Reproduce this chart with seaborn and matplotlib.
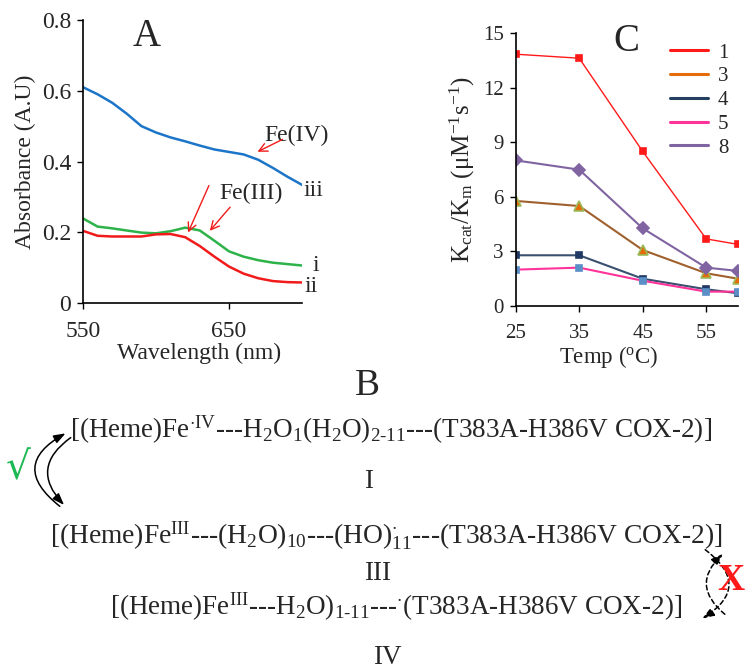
import matplotlib
matplotlib.use("Agg")

import matplotlib.pyplot as plt
import numpy as np
import pandas as pd
import seaborn as sns
from matplotlib.lines import Line2D
from matplotlib.patches import FancyArrowPatch

# ---- panel A: absorbance spectra ----
wavelength = [550, 560, 570, 580, 590, 600, 610, 620, 630, 640, 650, 660, 670, 680, 690, 700]
abs_i = [0.239, 0.216, 0.211, 0.205, 0.199, 0.197, 0.203, 0.213, 0.205, 0.176, 0.146, 0.131, 0.121, 0.114, 0.110, 0.106]
abs_ii = [0.204, 0.190, 0.188, 0.188, 0.188, 0.194, 0.195, 0.186, 0.161, 0.131, 0.103, 0.083, 0.070, 0.062, 0.059, 0.058]
abs_iii = [0.610, 0.590, 0.566, 0.535, 0.500, 0.482, 0.468, 0.457, 0.445, 0.434, 0.427, 0.420, 0.405, 0.382, 0.357, 0.334]

# ---- panel C: kcat/Km vs temperature ----
temps = [25, 35, 45, 55, 60]
kcat_1 = [13.85, 13.63, 8.50, 3.69, 3.39]
kcat_3 = [5.78, 5.50, 3.08, 1.80, 1.50]
kcat_4 = [2.79, 2.79, 1.50, 0.92, 0.70]
kcat_5 = [2.00, 2.11, 1.39, 0.79, 0.79]
kcat_8 = [8.01, 7.50, 4.27, 2.11, 1.93]
series_names = ["1", "3", "4", "5", "8"]

W, H = 745, 671


def fxy(px, py):
    """pixel position (from top-left) -> figure fraction"""
    return px / W, 1 - py / H


sns.set_theme(style="ticks")
plt.rcParams["font.family"] = ["Liberation Serif", "DejaVu Serif"]
plt.rcParams["mathtext.fontset"] = "custom"
plt.rcParams["mathtext.rm"] = "Liberation Serif"
plt.rcParams["mathtext.it"] = "Liberation Serif:italic"
plt.rcParams["mathtext.bf"] = "Liberation Serif:bold"

fig = plt.figure(figsize=(7.45, 6.71), dpi=100)
fig.patch.set_facecolor("white")

# ================= Panel A =================
axa = fig.add_axes([83 / W, 1 - 303 / H, 219 / W, 283 / H])
df_a = pd.DataFrame({
    "wavelength": wavelength * 3,
    "absorbance": abs_i + abs_ii + abs_iii,
    "sample": ["i"] * 16 + ["ii"] * 16 + ["iii"] * 16,
})
pal_a = {"i": "#2DB34A", "ii": "#F21B1B", "iii": "#1C75C8"}
sns.lineplot(data=df_a, x="wavelength", y="absorbance", hue="sample",
             palette=pal_a, lw=1.8, legend=False, ax=axa)
axa.set_xlim(550, 700)
axa.set_ylim(0, 0.8)
axa.set_xticks([550, 650])
axa.set_yticks([0, 0.2, 0.4, 0.6, 0.8])
axa.set_yticklabels(["0", "0.2", "0.4", "0.6", "0.8"])
axa.set_xlabel("Wavelength (nm)", fontsize=17)
axa.xaxis.set_label_coords(0.53, -0.14)
axa.set_ylabel("Absorbance (A.U)", fontsize=17, labelpad=4)
axa.text(0.29, 0.94, "A", transform=axa.transAxes, fontsize=28, ha="center", va="center")

# curve labels
for lab, xx, yy in [("iii", 701, 0.319), ("i", 707.5, 0.107), ("ii", 702, 0.048)]:
    axa.text(xx, yy, lab, fontsize=17, ha="left", va="center", clip_on=False)

axa.text(674.5, 0.475, "Fe(IV)", fontsize=17, ha="left", va="center")
axa.text(665, 0.311, "Fe(III)", fontsize=17, ha="center", va="center")
arrow_kw = dict(arrowstyle="->,head_length=0.5,head_width=0.25", color="#F21B1B", lw=1.0)
axa.annotate("", xy=(667.8, 0.424), xytext=(688.4, 0.466), arrowprops=arrow_kw)
axa.annotate("", xy=(621.2, 0.192), xytext=(637.0, 0.339), arrowprops=arrow_kw)
axa.annotate("", xy=(635.6, 0.198), xytext=(652.0, 0.277), arrowprops=arrow_kw)

# ================= Panel C =================
axc = fig.add_axes([515.7 / W, 1 - 306 / H, 222.3 / W, 272.7 / H])
kcat_all = [kcat_1, kcat_3, kcat_4, kcat_5, kcat_8]
line_cols = ["#FF1A1A", "#A0602D", "#3A5070", "#FF3399", "#8064A2"]
legend_cols = ["#FF1A1A", "#E46C0A", "#243F60", "#FF3399", "#8064A2"]
mk = ["s", "^", "s", "s", "D"]
mk_face = ["#FF1A1A", "#E46C0A", "#1F3864", "#5B8FC7", "#8064A2"]
mk_edge = ["#FF1A1A", "#9BBB59", "#1F3864", "#5B8FC7", "#8064A2"]
mk_size = [5, 7.5, 4.5, 5, 6]
lws = [1.0, 1.5, 1.5, 1.5, 1.5]
for vals, lc, m, mf, me, ms, lw in zip(kcat_all, line_cols, mk, mk_face, mk_edge, mk_size, lws):
    sns.lineplot(x=temps, y=vals, color=lc, lw=lw, marker=m, markersize=ms,
                 markerfacecolor=mf, markeredgecolor=me, markeredgewidth=1.2,
                 ax=axc, legend=False)
axc.set_xlim(25, 60)
axc.set_ylim(0, 15)
axc.set_xticks([25, 35, 45, 55])
axc.set_yticks([0, 3, 6, 9, 12, 15])
axc.set_xlabel("Temp ($^{\\mathrm{o}}$C)", fontsize=16.5)
axc.xaxis.set_label_coords(0.42, -0.14)
axc.set_ylabel("K$_{\\mathrm{cat}}$/K$_{\\mathrm{m}}$ (\u03bcM$^{\\mathrm{-1}}$s$^{\\mathrm{-1}}$)",
               fontsize=18, labelpad=4)
axc.text(0.5, 0.97, "C", transform=axc.transAxes, fontsize=28, ha="center", va="center")

handles = [Line2D([0], [0], color=c, lw=2.2) for c in legend_cols]
fig.legend(handles, series_names, loc="upper left", bbox_to_anchor=fxy(670, 43),
           frameon=False, fontsize=15, handlelength=1.8, handletextpad=0.5,
           labelspacing=0.2, borderpad=0, borderaxespad=0)

for ax in (axa, axc):
    sns.despine(ax=ax)
    for sp in ("left", "bottom"):
        ax.spines[sp].set_color("black")
        ax.spines[sp].set_linewidth(1.2)
    ax.tick_params(direction="out", length=4, width=1.0, color="black")
    ax.tick_params(axis="x", pad=9)
    ax.tick_params(axis="y", pad=4.5)
    ax.tick_params(labelsize=17 if ax is axa else 15)
    ax.set_facecolor("white")

# ================= Panel B: scheme =================
fig.text(*fxy(367, 395), "B", fontsize=27, ha="center", va="baseline")

fs_b = 19.5
line_i = (r"[(Heme)Fe$^{\cdot \mathrm{IV}}$---H$_{\mathrm{2}}$O$_{\mathrm{1}}$(H$_{\mathrm{2}}$O)"
          r"$_{\mathrm{2\text{-}11}}$---(T383A-H386V COX-2)]")
line_iii = (r"[(Heme)Fe$^{\mathrm{III}}$---(H$_{\mathrm{2}}$O)$_{\mathrm{10}}$---(HO)"
            r"$^{\cdot}_{\mathrm{11}}$---(T383A-H386V COX-2)]")
line_iv = (r"[(Heme)Fe$^{\mathrm{III}}$---H$_{\mathrm{2}}$O)$_{\mathrm{1\text{-}11}}$---"
           r"$^{\cdot}$(T383A-H386V COX-2)]")
fig.text(*fxy(70, 438), line_i, fontsize=fs_b, ha="left", va="baseline")
fig.text(*fxy(50, 543), line_iii, fontsize=fs_b + 0.3, ha="left", va="baseline")
fig.text(*fxy(110, 615), line_iv, fontsize=fs_b, ha="left", va="baseline")
fig.text(*fxy(369, 488), "I", fontsize=fs_b, ha="center", va="baseline")
fig.text(*fxy(378, 580), "III", fontsize=fs_b, ha="center", va="baseline")
fig.text(*fxy(387, 664), "IV", fontsize=fs_b, ha="center", va="baseline")

# reversible step I <-> III (green check)
head = "-|>,head_length=0.5,head_width=0.18"
a1 = FancyArrowPatch(fxy(62, 508), fxy(68, 432), transform=fig.transFigure,
                     connectionstyle="arc3,rad=-0.78", arrowstyle=head,
                     mutation_scale=14, color="black", lw=1.1)
a2 = FancyArrowPatch(fxy(73, 436), fxy(66, 507), transform=fig.transFigure,
                     connectionstyle="arc3,rad=0.6", arrowstyle=head,
                     mutation_scale=14, color="black", lw=1.1)
fig.patches.extend([a1, a2])
fig.text(*fxy(18, 468), "\u221a", fontsize=28, color="#1DB954", ha="center", va="center",
         family=["DejaVu Sans"])

# blocked step III -> IV (red X)
b1 = FancyArrowPatch(fxy(703, 548), fxy(700, 620), transform=fig.transFigure,
                     connectionstyle="arc3,rad=-0.75", arrowstyle=head,
                     mutation_scale=14, color="black", lw=1.1, linestyle=(0, (3, 2)))
b2 = FancyArrowPatch(fxy(727, 616), fxy(725, 552), transform=fig.transFigure,
                     connectionstyle="arc3,rad=-0.6", arrowstyle=head,
                     mutation_scale=14, color="black", lw=1.1, linestyle=(0, (3, 2)))
fig.patches.extend([b1, b2])
fig.text(*fxy(731, 580), "X", fontsize=27, fontweight="bold", color="#FF1A1A",
         ha="center", va="center")

fig.savefig("out.png", dpi=100, facecolor="white")
plt.close(fig)
